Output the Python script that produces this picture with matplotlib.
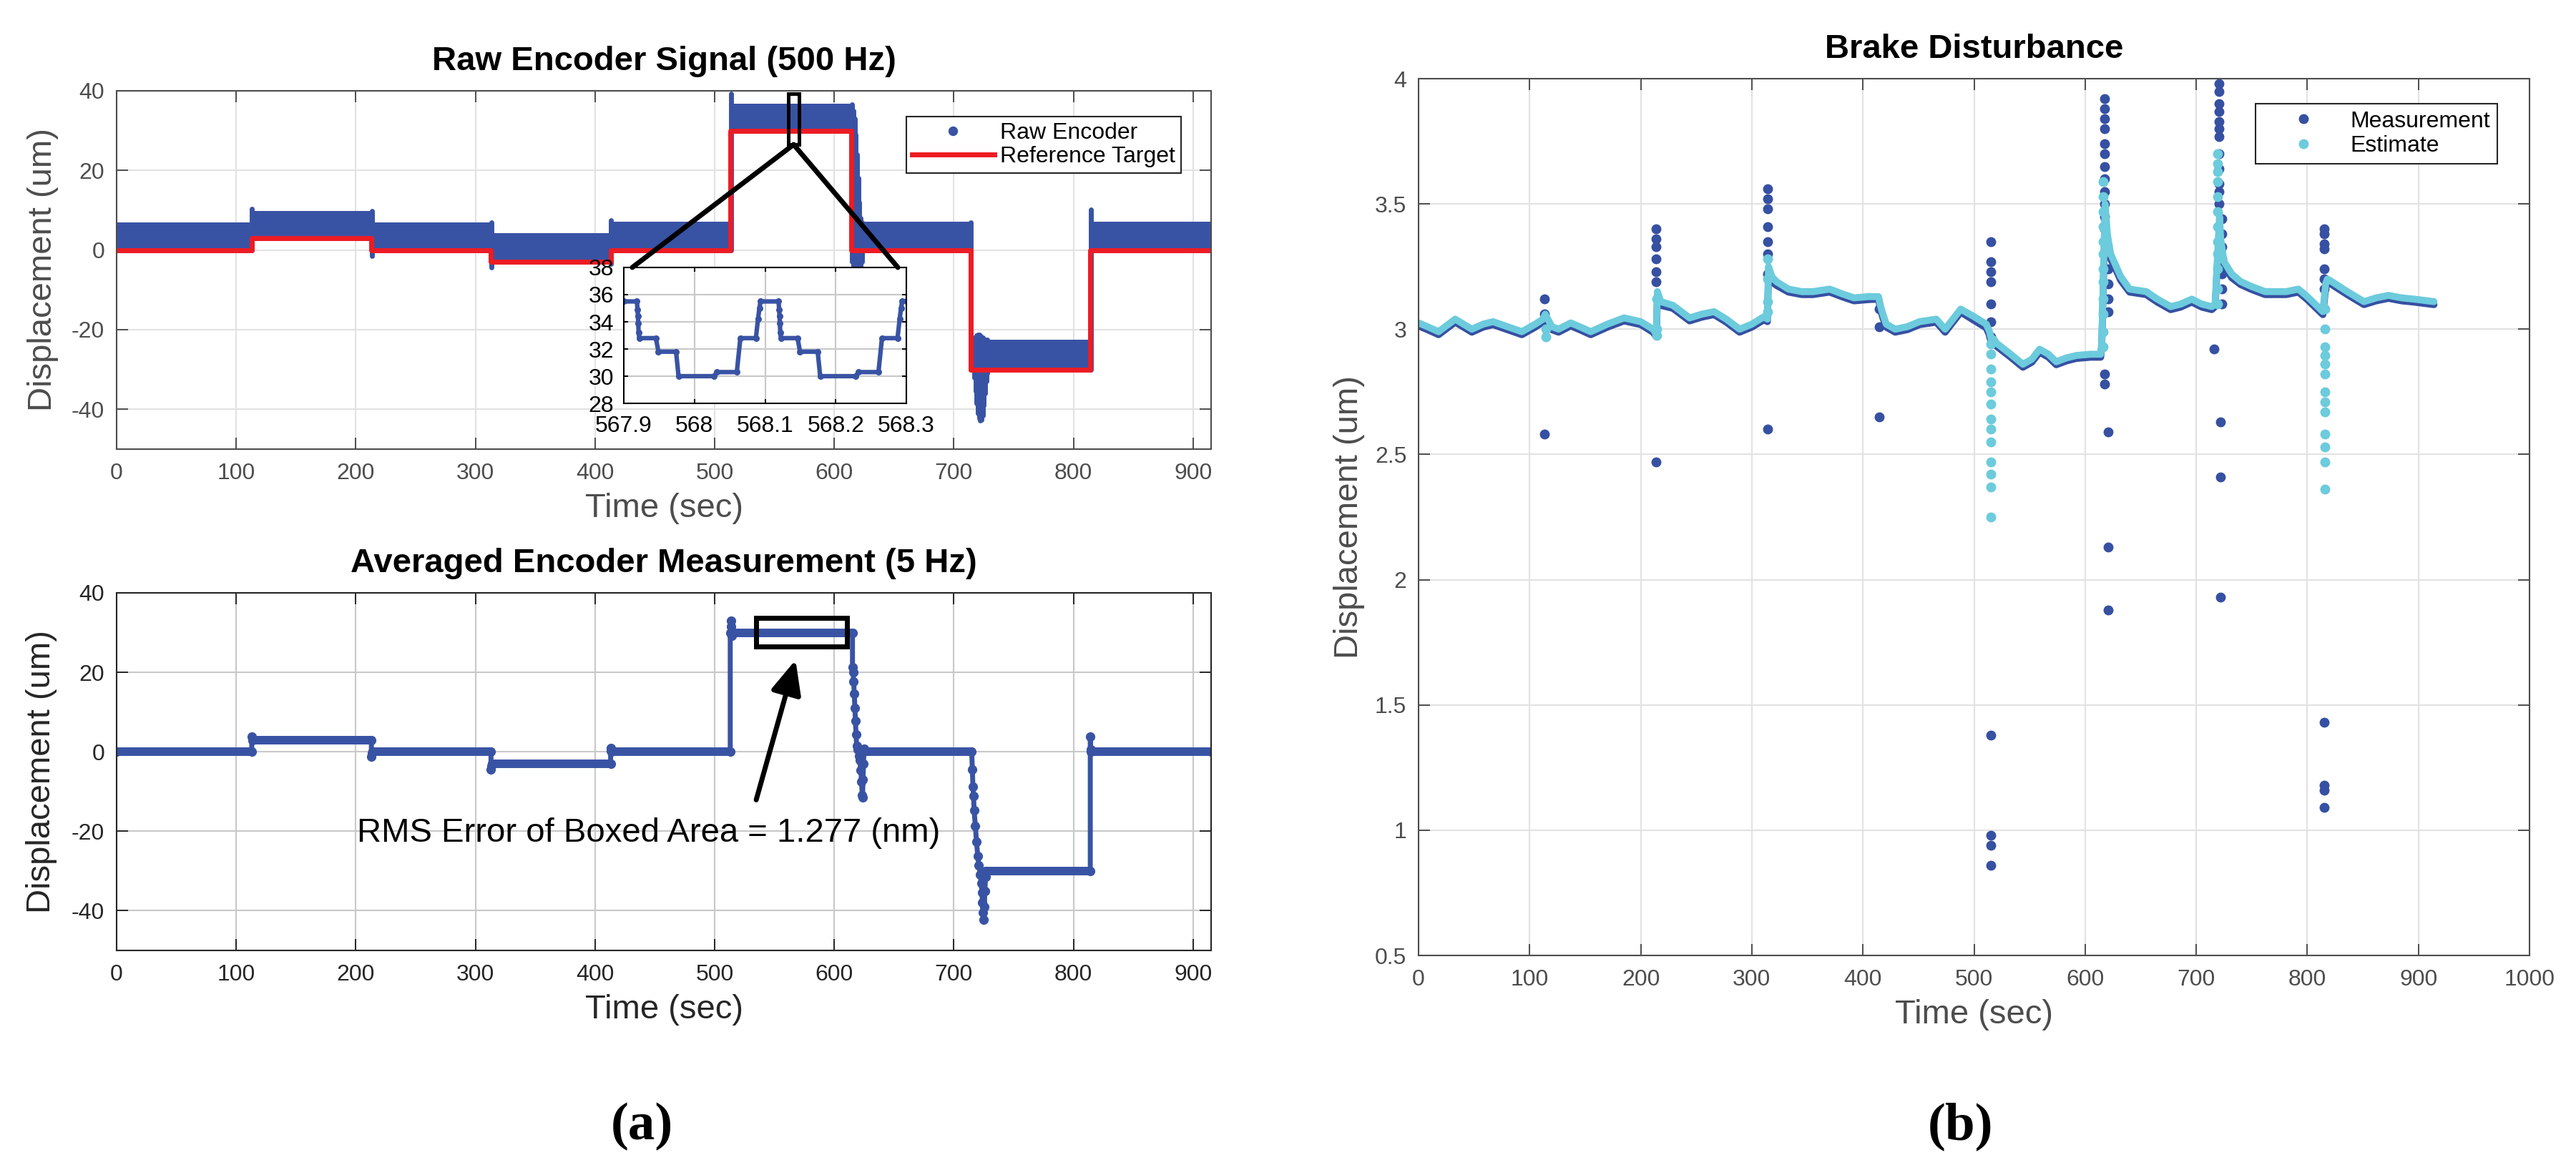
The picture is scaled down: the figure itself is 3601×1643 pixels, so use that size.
import numpy as np
import matplotlib
matplotlib.use('Agg')
import matplotlib.pyplot as plt
from matplotlib.patches import Rectangle, ConnectionPatch
from matplotlib.lines import Line2D
from matplotlib.ticker import FuncFormatter

plt.rcParams['font.family'] = ['Liberation Sans', 'DejaVu Sans']
plt.rcParams['axes.unicode_minus'] = False

W, H = 3601, 1643

BLUE = '#3953a4'
RED = '#ed1c24'
CYAN = '#6ccbdc'
DARK = '#3650a2'
GREY = '#4d4d4d'
INK = '#262626'

# ---- (a) top: raw encoder, 500 Hz. samples are dense enough to fill a band
seg_t = [0, 113, 213, 313, 413, 513, 614, 714, 814, 915]
ref_v = [0, 3, 0, -3, 0, 30, 0, -30, 0]
band_lo = [-0.7, 2.2, -0.7, -3.6, -0.7, 29.2, -0.7, -30.3, -0.7]
band_hi = [6.9, 9.9, 6.9, 4.2, 7.1, 36.8, 7.1, -22.6, 7.1]
# transients that stick out of the band
spike_t = [113, 213.5, 313.5, 413, 514, 615, 616, 617, 618, 619, 620, 621, 622, 623,
           714, 717, 718, 719, 720, 721, 722, 723, 724, 725, 726, 727, 728, 814.5]
spike_lo = [0, -1.5, -4.4, -3.5, 0, -3, -5, -7, -8, -9, -9, -8, -6, -3,
            -30, -32, -35.5, -38.5, -41, -42.3, -42.8, -42.6, -41.5, -39, -36, -33, -31, -30]
spike_hi = [10.3, 9.8, 6.9, 7.4, 39.2, 36.5, 35, 33, 29, 24, 18, 12, 8, 7,
            7, -22, -22, -21.5, -21.3, -21.3, -21.5, -21.8, -22, -22.3, -22.5, -22.5, -22.5, 10.2]

# inset, 567.9 .. 568.3 s
zoom_t = [567.900, 567.9185, 567.9195, 567.9200, 567.9205, 567.9210, 567.9220, 567.9455, 567.9490,
          567.9740, 567.9775, 568.0280, 568.0315, 568.0600, 568.0650, 568.0870, 568.0900, 568.0920,
          568.0935, 568.1190, 568.1200, 568.1205, 568.1210, 568.1215, 568.1225, 568.1460, 568.1495,
          568.1745, 568.1780, 568.2285, 568.2320, 568.2605, 568.2655, 568.2875, 568.2905, 568.2925,
          568.2940, 568.3000]
zoom_v = [35.5, 35.5, 34.9, 34.4, 33.9, 33.2, 32.8, 32.8, 31.8, 31.8, 30.0, 30.0, 30.3, 30.3,
          32.8, 32.8, 34.2, 35.0, 35.5, 35.5, 34.9, 34.4, 33.9, 33.2, 32.8, 32.8, 31.8, 31.8,
          30.0, 30.0, 30.3, 30.3, 32.8, 32.8, 34.2, 35.0, 35.5, 35.5]

# ---- (a) bottom: averaged, 5 Hz
avg_t = [0, 113, 113, 113.4, 113.8, 213, 213, 213.4, 213.8, 313, 313, 313.4, 313.8, 413, 413, 413.4, 413.8,
         513, 513, 513.5, 513.8, 514.1, 514.5, 615.2, 615.2, 615.7, 616.2, 616.7, 617.2, 617.7, 618.2, 618.7,
         619.5, 620.5, 621.2, 622.2, 622.8, 623.3, 623.6, 624.0, 624.4, 624.8, 625.2,
         714.9, 715.4, 715.9, 716.4, 716.9, 717.9, 718.9, 719.9, 720.9, 721.9, 722.9, 723.4, 723.9, 724.4, 724.9,
         725.4, 725.9, 726.4, 726.9, 814, 814, 814.4, 814.8, 915]
avg_v = [0, 0, 3.9, 3.3, 3, 3, -1.2, -0.4, 0, 0, -4.5, -3.5, -3, -3, 0.9, 0.3, 0,
         0, 30, 32.9, 31.5, 29.2, 30, 30, 21.2, 20.0, 17.6, 14.6, 11.0, 7.7, 4.4, 1.4,
         0.5, -1.0, -2.2, -4.6, -7.6, -10.9, -11.5, -7.0, -3.0, 0.8, 0,
         0, -4.5, -8.8, -11.2, -14.8, -18.7, -22.6, -26.2, -28.6, -31.0, -33.0, -35.5, -38.0, -40.5, -42.2,
         -39.0, -35.0, -31.5, -30, -30, 3.9, 0.5, 0, 0]
box_x = [534.7, 610.6]
box_y = [26.5, 33.7]

# ---- (b) brake disturbance
brake_t = [0, 8, 18, 33, 48, 58, 67, 80, 93, 105, 112, 114, 120, 126, 137, 145, 155, 170, 185, 200,
           211, 214, 215, 218, 229, 244, 255, 266, 277, 289, 300, 311, 314, 315, 318, 322, 333, 345, 355, 370,
           382, 392, 405, 414, 416, 418, 421, 429, 440, 451, 466, 474, 488, 500, 511, 514, 516, 518, 520, 533,
           544, 552, 559, 567, 574, 583, 592, 605, 614, 615, 618, 620, 623, 627, 632, 640, 655, 665, 677, 686,
           696, 705, 714, 717, 721, 722, 725, 732, 740, 750, 762, 771, 781, 792, 800, 807, 814, 816.5, 818, 822,
           836, 851, 862, 873, 885, 896, 905, 914]
brake_est = [3.025, 3.01, 2.99, 3.04, 3.0, 3.02, 3.03, 3.01, 2.99, 3.02, 3.04, 3.06, 3.01, 3.0, 3.025, 3.01, 2.99, 3.02, 3.045, 3.03,
             3.0, 2.98, 3.15, 3.11, 3.095, 3.045, 3.06, 3.07, 3.04, 3.0, 3.02, 3.05, 3.04, 3.25, 3.21, 3.19, 3.16, 3.15, 3.15, 3.16,
             3.14, 3.125, 3.13, 3.13, 3.09, 3.06, 3.02, 3.0, 3.01, 3.03, 3.04, 3.0, 3.08, 3.05, 3.02, 2.99, 2.95, 2.96, 2.945, 2.9,
             2.86, 2.88, 2.92, 2.9, 2.87, 2.885, 2.895, 2.9, 2.9, 2.95, 3.5, 3.38, 3.3, 3.26, 3.21, 3.16, 3.15, 3.12, 3.09, 3.1,
             3.12, 3.1, 3.09, 3.1, 3.45, 3.36, 3.27, 3.22, 3.19, 3.17, 3.15, 3.15, 3.15, 3.16, 3.13, 3.1, 3.07, 3.18, 3.2, 3.19,
             3.15, 3.11, 3.125, 3.135, 3.125, 3.12, 3.115, 3.11]
brake_meas = [3.013, 2.998, 2.978, 3.028, 2.988, 3.008, 3.018, 2.998, 2.978, 3.008, 3.028, 3.048, 2.998, 2.988, 3.013, 2.998, 2.978, 3.008, 3.033, 3.018,
              2.988, 2.97, 3.13, 3.095, 3.083, 3.033, 3.048, 3.058, 3.028, 2.988, 3.008, 3.038, 3.03, 3.22, 3.19, 3.175, 3.148, 3.138, 3.138, 3.148,
              3.128, 3.113, 3.118, 3.12, 3.075, 3.045, 3.008, 2.988, 2.998, 3.018, 3.028, 2.988, 3.068, 3.035, 3.005, 2.975, 2.94, 2.948, 2.933, 2.888,
              2.848, 2.868, 2.908, 2.888, 2.858, 2.873, 2.883, 2.888, 2.888, 2.94, 3.45, 3.35, 3.28, 3.245, 3.195, 3.148, 3.138, 3.108, 3.078, 3.088,
              3.108, 3.088, 3.078, 3.09, 3.42, 3.34, 3.255, 3.205, 3.178, 3.158, 3.138, 3.138, 3.138, 3.148, 3.118, 3.088, 3.058, 3.165, 3.185, 3.178,
              3.138, 3.098, 3.113, 3.123, 3.113, 3.108, 3.103, 3.098]
# samples thrown off the curve at each brake step
meas_jump_t = [113.5, 214, 314.5, 414.5, 515, 617.5, 621, 720.5, 723, 716, 722, 815.5]
meas_jump_v = [
    [3.12, 3.06, 2.58],
    [3.40, 3.36, 3.33, 3.28, 3.23, 3.19, 2.47],
    [3.56, 3.52, 3.48, 3.41, 3.35, 3.30, 3.22, 2.60],
    [3.08, 3.01, 2.65],
    [3.35, 3.27, 3.23, 3.19, 3.10, 3.03, 2.97, 1.38, 0.98, 0.94, 0.86],
    [3.92, 3.88, 3.84, 3.80, 3.74, 3.70, 3.65, 3.60, 3.55, 3.50, 3.45, 3.40, 3.35, 2.82, 2.78],
    [3.30, 3.24, 3.18, 3.12, 3.07, 2.59, 2.13, 1.88],
    [3.98, 3.95, 3.90, 3.87, 3.83, 3.80, 3.77, 3.70, 3.64, 3.58, 3.55, 3.50],
    [3.44, 3.38, 3.33, 3.28, 3.22, 3.16, 3.10],
    [2.92],
    [2.63, 2.41, 1.93],
    [3.40, 3.38, 3.34, 3.32, 3.24, 3.20, 3.16, 1.43, 1.18, 1.16, 1.09],
]
est_jump_t = [114.5, 214.5, 314.5, 515, 616.5, 719, 815.7]
est_jump_v = [
    [2.97, 3.0],
    [2.975, 3.0, 3.12],
    [3.07, 3.11, 3.28, 3.2],
    [2.94, 2.90, 2.84, 2.79, 2.75, 2.70, 2.64, 2.60, 2.55, 2.47, 2.42, 2.37, 2.25],
    [2.93, 2.99, 3.06, 3.12, 3.19, 3.24, 3.30, 3.35, 3.41, 3.47, 3.53, 3.59],
    [3.10, 3.16, 3.24, 3.30, 3.35, 3.41, 3.47, 3.53, 3.59, 3.63, 3.66, 3.70],
    [3.08, 3.0, 2.93, 2.895, 2.86, 2.82, 2.75, 2.71, 2.67, 2.58, 2.53, 2.47, 2.36],
]


def box(l, t, r, b):
    return [l / W, 1 - b / H, (r - l) / W, (b - t) / H]


def style(ax, edge, gridc, tl=11.5, fs=23):
    for s in ax.spines.values():
        s.set_color(edge)
        s.set_linewidth(1.5)
    ax.tick_params(direction='in', length=tl, width=1.4, color=edge, labelcolor=edge,
                   labelsize=fs, top=True, right=True)
    ax.tick_params(axis='x', pad=14)
    ax.tick_params(axis='y', pad=12)
    ax.grid(True, color=gridc, lw=1.5)
    ax.set_axisbelow(True)


fmt = FuncFormatter(lambda v, _: f'{v:g}')

fig = plt.figure(figsize=(W / 100, H / 100), dpi=100)
ax1 = fig.add_axes(box(163, 127, 1693, 628))
ax2 = fig.add_axes(box(163, 829, 1693, 1329))
ax3 = fig.add_axes(box(1983, 110, 3536, 1336))
axin = fig.add_axes(box(872, 374, 1267, 564))

# ---------- raw encoder
style(ax1, GREY, '#e2e2e2')
ax1.fill_between(seg_t, band_lo + band_lo[-1:], band_hi + band_hi[-1:], step='post',
                 color=BLUE, lw=0)
sp = ax1.vlines(spike_t, spike_lo, spike_hi, color=BLUE, lw=5)
sp.set_capstyle('round')
ax1.step(seg_t, ref_v + ref_v[-1:], where='post', color=RED, lw=5)
ax1.set_xlim(0, 915)
ax1.set_ylim(-50, 40)
ax1.set_xticks(range(0, 901, 100))
ax1.set_yticks(range(-40, 41, 20))
ax1.set_title('Raw Encoder Signal (500 Hz)', fontsize=34, fontweight='bold', pad=21)
ax1.set_xlabel('Time (sec)', fontsize=34, color=GREY, labelpad=8)
ax1.set_ylabel('Displacement (um)', fontsize=34, color=GREY)
ax1.yaxis.set_label_coords(-0.053, 0.5)
ax1.add_patch(Rectangle((561.6, 26.5), 8.9, 12.8, fill=False, lw=3.6, ec='black', zorder=5))
leg = ax1.legend(handles=[Line2D([], [], ls='none', marker='o', color=BLUE, ms=8.6),
                          Line2D([], [], color=RED, lw=5)],
                 labels=['Raw Encoder', 'Reference Target'], loc='upper left',
                 bbox_to_anchor=(1267 / W, 1 - 163 / H), bbox_transform=fig.transFigure,
                 fontsize=23, fancybox=False, framealpha=1, edgecolor=INK, borderaxespad=0,
                 borderpad=0.25, handlelength=3.6, handletextpad=0.25, labelspacing=0.1)
leg.get_frame().set_linewidth(1.5)

# ---------- inset
style(axin, 'black', '#c8c8c8', tl=4, fs=23)
axin.tick_params(axis='x', pad=12)
axin.tick_params(axis='y', pad=10)
axin.plot(zoom_t, zoom_v, '-o', color=BLUE, lw=4.5, ms=5.5)
axin.set_xlim(567.9, 568.3)
axin.set_ylim(28, 38)
axin.set_xticks([567.9, 568.0, 568.1, 568.2, 568.3])
axin.set_yticks(range(28, 39, 2))
axin.xaxis.set_major_formatter(fmt)
for xb in (0.03, 0.97):
    con = ConnectionPatch(xyA=(566, 26.5), coordsA=ax1.transData, xyB=(xb, 1.0),
                          coordsB=axin.transAxes, lw=5, color='black')
    fig.add_artist(con)

# ---------- averaged
style(ax2, INK, '#c8c8c8')
ta = np.array(avg_t)
va = np.array(avg_v)
ax2.plot(ta, va, '-o', color=BLUE, lw=5, ms=8.5)
flat = (np.diff(va) == 0) & (np.diff(ta) > 5)
hl = ax2.hlines(va[:-1][flat], ta[:-1][flat], ta[1:][flat], color=BLUE, lw=8.6)
hl.set_capstyle('round')
ax2.set_xlim(0, 915)
ax2.set_ylim(-50, 40)
ax2.set_xticks(range(0, 901, 100))
ax2.set_yticks(range(-40, 41, 20))
ax2.set_title('Averaged Encoder Measurement (5 Hz)', fontsize=34, fontweight='bold', pad=21)
ax2.set_xlabel('Time (sec)', fontsize=34, color=INK, labelpad=8)
ax2.set_ylabel('Displacement (um)', fontsize=34, color=INK)
ax2.yaxis.set_label_coords(-0.054, 0.5)
ax2.add_patch(Rectangle((box_x[0], box_y[0]), box_x[1] - box_x[0], box_y[1] - box_y[0],
                        fill=False, lw=5, ec='black', zorder=5))
ax2.annotate('', xy=(567.6, 23.1), xytext=(534.7, -12.1),
             arrowprops=dict(arrowstyle='-|>,head_length=0.8,head_width=0.36', lw=5,
                             color='black', mutation_scale=36, shrinkA=0, shrinkB=0))
ax2.text(445, -20.4, 'RMS Error of Boxed Area = 1.277 (nm)', ha='center', va='center',
         fontsize=34, color='black')

# ---------- brake disturbance
style(ax3, GREY, '#e2e2e2')
ax3.plot(brake_t, brake_meas, color=DARK, lw=7, solid_capstyle='round')
for t, vals in zip(meas_jump_t, meas_jump_v):
    ax3.plot([t] * len(vals), vals, 'o', color=DARK, ms=9)
ax3.plot(brake_t, brake_est, color=CYAN, lw=7, solid_capstyle='round')
for t, vals in zip(est_jump_t, est_jump_v):
    ax3.plot([t] * len(vals), vals, 'o', color=CYAN, ms=9)
ax3.set_xlim(0, 1000)
ax3.set_ylim(0.5, 4)
ax3.set_xticks(range(0, 1001, 100))
ax3.set_yticks(np.arange(0.5, 4.01, 0.5))
ax3.yaxis.set_major_formatter(fmt)
ax3.set_title('Brake Disturbance', fontsize=34, fontweight='bold', pad=21)
ax3.set_xlabel('Time (sec)', fontsize=34, color=GREY, labelpad=8)
ax3.set_ylabel('Displacement (um)', fontsize=34, color=GREY)
ax3.yaxis.set_label_coords(-0.048, 0.5)
leg3 = ax3.legend(handles=[Line2D([], [], ls='none', marker='o', color=DARK, ms=9),
                           Line2D([], [], ls='none', marker='o', color=CYAN, ms=9)],
                  labels=['Measurement', 'Estimate'], loc='upper left',
                  bbox_to_anchor=(3153 / W, 1 - 145 / H), bbox_transform=fig.transFigure,
                  fontsize=23, fancybox=False, framealpha=1, edgecolor=INK, borderaxespad=0,
                  borderpad=0.3, handlelength=3.6, handletextpad=0.25, labelspacing=0.15)
leg3.get_frame().set_linewidth(1.5)

fig.text(897 / W, 1 - 1575 / H, '(a)', fontsize=54, fontweight='bold',
         family='Liberation Serif', ha='center', va='center')
fig.text(2740 / W, 1 - 1575 / H, '(b)', fontsize=54, fontweight='bold',
         family='Liberation Serif', ha='center', va='center')

fig.savefig('out.png', dpi=100)
